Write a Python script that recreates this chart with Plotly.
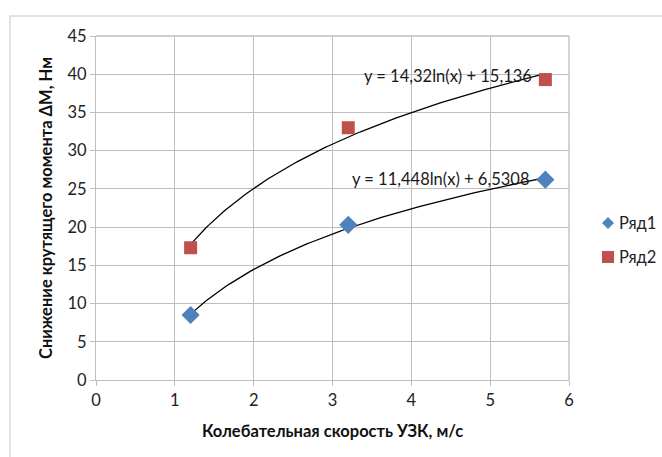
import numpy as np
import plotly.graph_objects as go

# Measured data
speed = [1.2, 3.2, 5.7]
series1 = [8.5, 20.3, 26.2]
series2 = [17.3, 33.0, 39.3]
series_names = ["Ряд1", "Ряд2"]
series_colors = ["#4F81BD", "#C0504D"]

# Logarithmic trend coefficients: y = a*ln(x) + b
trend1 = (11.448, 6.5308)
trend2 = (14.32, 15.136)
trend1_label = "y = 11,448ln(x) + 6,5308"
trend2_label = "y = 14,32ln(x) + 15,136"

x_ticks = [0, 1, 2, 3, 4, 5, 6]
y_ticks = [0, 5, 10, 15, 20, 25, 30, 35, 40, 45]

FONT = "Lato, Open Sans, sans-serif"
GRID = "#BEBEBE"
FS = 16.5

# plot area in pixels
L, R, T, B = 96, 569, 36, 380
W, H = R - L, B - T


def px(x):
    return (x - L) / W


def py(y):
    return (B - y) / H


fig = go.Figure()

xs = np.linspace(min(speed), max(speed), 120)
for a, b in (trend1, trend2):
    fig.add_trace(go.Scatter(
        x=xs, y=a * np.log(xs) + b, mode="lines",
        line=dict(color="black", width=1.3), showlegend=False, hoverinfo="skip"))

fig.add_trace(go.Scatter(
    x=speed, y=series1, mode="markers", name=series_names[0], showlegend=False,
    marker=dict(symbol="diamond", size=14, color=series_colors[0])))
fig.add_trace(go.Scatter(
    x=speed, y=series2, mode="markers", name=series_names[1], showlegend=False,
    marker=dict(symbol="square", size=13, color=series_colors[1])))

fig.add_annotation(x=4.47, y=39.8, text=trend2_label, showarrow=False,
                   font=dict(family=FONT, size=FS, color="#1a1a1a"))
fig.add_annotation(x=4.37, y=26.3, text=trend1_label, showarrow=False,
                   font=dict(family=FONT, size=FS, color="#1a1a1a"))

# Outer chart frame
fig.add_shape(type="rect", xref="paper", yref="paper",
              x0=px(10), y0=py(470), x1=px(700), y1=py(16),
              line=dict(color="#D9D9D9", width=1.5), layer="below")

# Legend: symbol + label for each series
cx, cy1, cy2 = 608, 223, 257
d = 6
fig.add_shape(type="path", xref="paper", yref="paper",
              path=f"M {px(cx-d)} {py(cy1)} L {px(cx)} {py(cy1-d)} L {px(cx+d)} {py(cy1)} L {px(cx)} {py(cy1+d)} Z",
              fillcolor=series_colors[0], line=dict(width=0))
fig.add_shape(type="rect", xref="paper", yref="paper",
              x0=px(cx-6), x1=px(cx+6), y0=py(cy2+6), y1=py(cy2-6),
              fillcolor=series_colors[1], line=dict(width=0))
for name, cy in zip(series_names, (cy1, cy2)):
    fig.add_annotation(xref="paper", yref="paper", x=px(617), y=py(cy), xanchor="left",
                       yanchor="middle", text=name, showarrow=False,
                       font=dict(family=FONT, size=FS, color="#222"))

fig.update_xaxes(range=[0, 6], tickvals=x_ticks, showgrid=True, gridcolor=GRID, gridwidth=1.3,
                 zeroline=False, showline=True, linecolor=GRID, linewidth=1.3,
                 ticks="outside", ticklen=5, tickcolor=GRID, automargin=False,
                 tickfont=dict(family=FONT, size=FS, color="#222"),
                 title=dict(text="<b>Колебательная скорость УЗК, м/с</b>", standoff=16,
                            font=dict(family=FONT, size=FS, color="#111")))
fig.update_yaxes(range=[0, 45], tickvals=y_ticks, showgrid=True, gridcolor=GRID, gridwidth=1.3,
                 zeroline=False, showline=True, linecolor=GRID, linewidth=1.3,
                 ticks="outside", ticklen=5, tickcolor=GRID, automargin=False,
                 tickfont=dict(family=FONT, size=FS, color="#222"),
                 title=dict(text="<b>Снижение крутящего момента ΔМ, Нм</b>", standoff=10,
                            font=dict(family=FONT, size=FS, color="#111")))

fig.update_layout(
    width=662, height=457,
    margin=dict(l=L, r=662 - R, t=T, b=457 - B, autoexpand=False),
    paper_bgcolor="white", plot_bgcolor="white",
    showlegend=False,
)

# Right and top plot borders
fig.add_shape(type="line", xref="paper", yref="paper", x0=1, x1=1, y0=0, y1=1,
              line=dict(color=GRID, width=1.3))
fig.add_shape(type="line", xref="paper", yref="paper", x0=0, x1=1, y0=1, y1=1,
              line=dict(color=GRID, width=1.3))

fig.write_html("out.html")
